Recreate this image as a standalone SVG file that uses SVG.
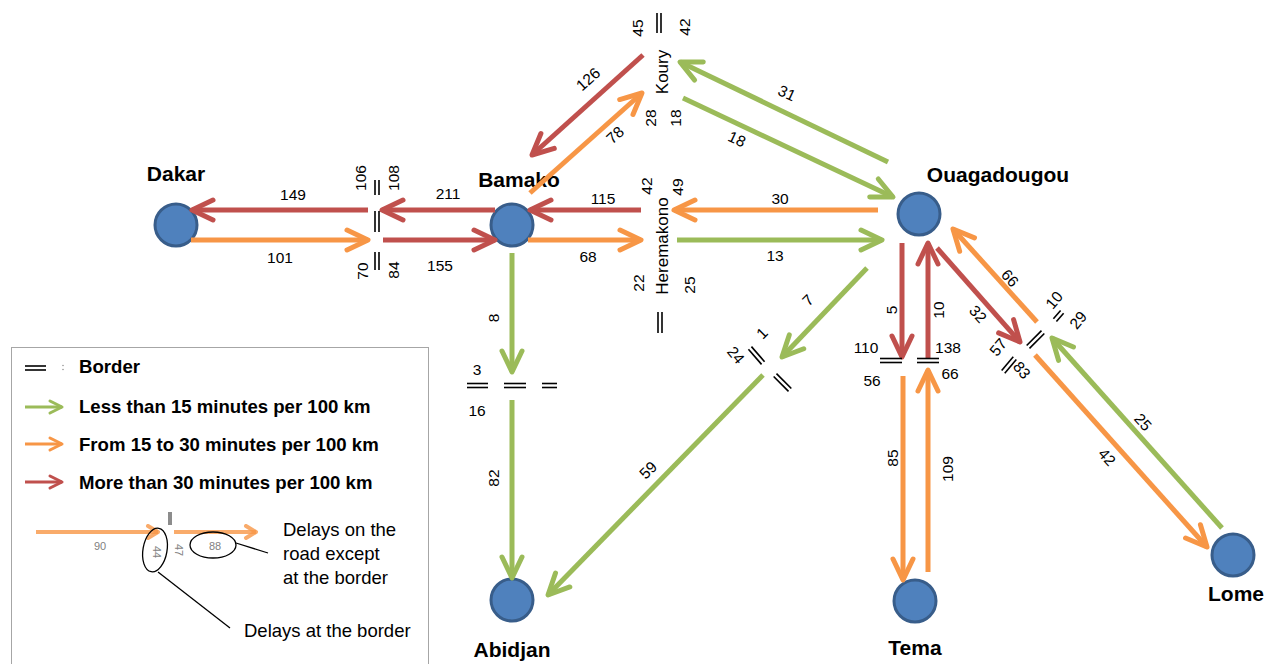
<svg xmlns="http://www.w3.org/2000/svg" width="1265" height="664" viewBox="0 0 1265 664">
<style>
.node{fill:#4f81bd;stroke:#385d8a;stroke-width:3}
.nl{font-family:"Liberation Sans",Arial,sans-serif;font-weight:bold;font-size:21px;fill:#000;text-anchor:middle}
.g{stroke:#9bbb59;stroke-width:5;fill:none}
.o{stroke:#f79646;stroke-width:5;fill:none}
.r{stroke:#c0504d;stroke-width:5;fill:none}
.g{marker-end:url(#ag)}.o{marker-end:url(#ao)}.r{marker-end:url(#ar)}
.n{font-family:"Liberation Sans",Arial,sans-serif;font-size:15.5px;fill:#000;text-anchor:middle;dominant-baseline:central}
.pl{font-family:"Liberation Sans",Arial,sans-serif;font-size:17px;fill:#000;text-anchor:middle;dominant-baseline:central}
.bd line{stroke:#000;stroke-width:1.6}
.lt{font-family:"Liberation Sans",Arial,sans-serif;font-weight:bold;font-size:18.6px;fill:#000}
.ex{font-family:"Liberation Sans",Arial,sans-serif;font-size:18.5px;fill:#000}
.sm{font-family:"Liberation Sans",Arial,sans-serif;font-size:11px;fill:#7f7f7f;text-anchor:middle;dominant-baseline:central}
</style>
<defs>
<marker id="ag" viewBox="-26 -14 30 28" refX="0" refY="0" markerWidth="30" markerHeight="28" markerUnits="userSpaceOnUse" orient="auto"><path d="M-21,-10 L0,0 L-21,10" fill="none" stroke="#9bbb59" stroke-width="5" stroke-linecap="round" stroke-linejoin="round"/></marker>
<marker id="ao" viewBox="-26 -14 30 28" refX="0" refY="0" markerWidth="30" markerHeight="28" markerUnits="userSpaceOnUse" orient="auto"><path d="M-21,-10 L0,0 L-21,10" fill="none" stroke="#f79646" stroke-width="5" stroke-linecap="round" stroke-linejoin="round"/></marker>
<marker id="ar" viewBox="-26 -14 30 28" refX="0" refY="0" markerWidth="30" markerHeight="28" markerUnits="userSpaceOnUse" orient="auto"><path d="M-21,-10 L0,0 L-21,10" fill="none" stroke="#c0504d" stroke-width="5" stroke-linecap="round" stroke-linejoin="round"/></marker>
<marker id="sg" viewBox="-16 -9 20 18" refX="0" refY="0" markerWidth="20" markerHeight="18" markerUnits="userSpaceOnUse" orient="auto"><path d="M-12,-6 L0,0 L-12,6" fill="none" stroke="#9bbb59" stroke-width="3" stroke-linecap="round" stroke-linejoin="round"/></marker>
<marker id="so" viewBox="-16 -9 20 18" refX="0" refY="0" markerWidth="20" markerHeight="18" markerUnits="userSpaceOnUse" orient="auto"><path d="M-12,-6 L0,0 L-12,6" fill="none" stroke="#f79646" stroke-width="3" stroke-linecap="round" stroke-linejoin="round"/></marker>
<marker id="sr" viewBox="-16 -9 20 18" refX="0" refY="0" markerWidth="20" markerHeight="18" markerUnits="userSpaceOnUse" orient="auto"><path d="M-12,-6 L0,0 L-12,6" fill="none" stroke="#c0504d" stroke-width="3" stroke-linecap="round" stroke-linejoin="round"/></marker>
<marker id="io" viewBox="-14 -8 18 16" refX="0" refY="0" markerWidth="18" markerHeight="16" markerUnits="userSpaceOnUse" orient="auto"><path d="M-10,-6 L0,0 L-10,6" fill="none" stroke="#f79646" stroke-width="4" stroke-opacity="0.8" stroke-linecap="round" stroke-linejoin="round"/></marker>
</defs>
<rect width="1265" height="664" fill="#fff"/>

<g id="nodes">
<g id="dakar"><circle class="node" cx="176" cy="225" r="21"/><text class="nl" x="176" y="181">Dakar</text></g>
<g id="bamako"><circle class="node" cx="512" cy="225" r="21"/><text class="nl" x="519" y="187">Bamako</text></g>
<g id="ouagadougou"><circle class="node" cx="919" cy="214" r="21"/><text class="nl" x="998" y="182">Ouagadougou</text></g>
<g id="abidjan"><circle class="node" cx="512" cy="600" r="21"/><text class="nl" x="512" y="657">Abidjan</text></g>
<g id="tema"><circle class="node" cx="915" cy="601" r="21"/><text class="nl" x="915" y="655">Tema</text></g>
<g id="lome"><circle class="node" cx="1233" cy="555" r="21"/><text class="nl" x="1236" y="601">Lome</text></g>
</g>

<g id="connectors">
<line class="r" x1="368" y1="210" x2="192" y2="210"/>
<line class="o" x1="191" y1="240" x2="368" y2="240"/>
<line class="r" x1="495" y1="210" x2="382" y2="210"/>
<line class="r" x1="383" y1="240" x2="495" y2="240"/>
<line class="r" x1="641" y1="210" x2="530" y2="210"/>
<line class="o" x1="528" y1="240" x2="641" y2="240"/>
<line class="o" x1="878" y1="210" x2="674" y2="210"/>
<line class="g" x1="677" y1="240" x2="882" y2="240"/>
<line class="r" x1="643" y1="55" x2="532" y2="155"/>
<line class="o" x1="530" y1="193" x2="642" y2="93"/>
<line class="g" x1="888" y1="162" x2="680" y2="62"/>
<line class="g" x1="683" y1="98" x2="893" y2="197"/>
<line class="g" x1="512" y1="253" x2="512" y2="372"/>
<line class="g" x1="512" y1="400" x2="512" y2="578"/>
<line class="g" x1="867" y1="268" x2="782" y2="357"/>
<line class="g" x1="763" y1="375" x2="548" y2="595"/>
<line class="r" x1="902" y1="243" x2="902" y2="357"/>
<line class="r" x1="928" y1="358" x2="928" y2="243"/>
<line class="o" x1="903" y1="376" x2="903" y2="580"/>
<line class="o" x1="928" y1="572" x2="928" y2="370"/>
<line class="r" x1="937" y1="248" x2="1020" y2="342"/>
<line class="o" x1="1037" y1="322" x2="953" y2="229"/>
<line class="o" x1="1035" y1="355" x2="1207" y2="547"/>
<line class="g" x1="1222" y1="528" x2="1052" y2="338"/>
</g>

<g id="borders" class="bd">
<line x1="375" y1="180" x2="375" y2="195"/><line x1="379" y1="180" x2="379" y2="195"/>
<line x1="375" y1="211" x2="375" y2="232"/><line x1="379" y1="211" x2="379" y2="232"/>
<line x1="375" y1="252" x2="375" y2="270"/><line x1="379" y1="252" x2="379" y2="270"/>
<line x1="657" y1="13" x2="657" y2="33"/><line x1="661" y1="13" x2="661" y2="33"/>
<line x1="658" y1="312" x2="658" y2="333"/><line x1="662" y1="312" x2="662" y2="333"/>
<line x1="467" y1="383.5" x2="488" y2="383.5"/><line x1="467" y1="387.5" x2="488" y2="387.5"/>
<line x1="504" y1="383.5" x2="526" y2="383.5"/><line x1="504" y1="387.5" x2="526" y2="387.5"/>
<line x1="542" y1="383.5" x2="557" y2="383.5"/><line x1="542" y1="387.5" x2="557" y2="387.5"/>
<line x1="880" y1="358.5" x2="902" y2="358.5"/><line x1="880" y1="362.5" x2="902" y2="362.5"/>
<line x1="917" y1="358.5" x2="939" y2="358.5"/><line x1="917" y1="362.5" x2="939" y2="362.5"/>
<g transform="translate(756.5,355.5) rotate(49)"><line x1="-10" y1="-2" x2="10" y2="-2"/><line x1="-10" y1="2" x2="10" y2="2"/></g>
<g transform="translate(782.5,382.5) rotate(45)"><line x1="-10.5" y1="-2" x2="10.5" y2="-2"/><line x1="-10.5" y1="2" x2="10.5" y2="2"/></g>
<g transform="translate(1035.5,339.5) rotate(-45)"><line x1="-10.5" y1="-2" x2="10.5" y2="-2"/><line x1="-10.5" y1="2" x2="10.5" y2="2"/></g>
<g transform="translate(1058.5,316) rotate(-49)"><line x1="-5.5" y1="-2" x2="5.5" y2="-2"/><line x1="-5.5" y1="2" x2="5.5" y2="2"/></g>
<g transform="translate(1009,365) rotate(-50)"><line x1="-9" y1="-2" x2="9" y2="-2"/><line x1="-9" y1="2" x2="9" y2="2"/></g>
</g>

<g id="labels">
<text class="n" x="293" y="194">149</text>
<text class="n" x="280" y="257">101</text>
<text class="n" x="448" y="193">211</text>
<text class="n" x="440" y="265">155</text>
<text class="n" transform="translate(360,178) rotate(-90)">106</text>
<text class="n" transform="translate(393,178) rotate(-90)">108</text>
<text class="n" transform="translate(362,271) rotate(-90)">70</text>
<text class="n" transform="translate(393,270) rotate(-90)">84</text>
<text class="n" x="603" y="198">115</text>
<text class="n" x="588" y="256">68</text>
<text class="n" x="780" y="198">30</text>
<text class="n" x="775" y="255">13</text>
<text class="n" transform="translate(646,186) rotate(-90)">42</text>
<text class="n" transform="translate(677,187) rotate(-90)">49</text>
<text class="pl" transform="translate(662,246) rotate(-90)">Heremakono</text>
<text class="n" transform="translate(638,283) rotate(-90)">22</text>
<text class="n" transform="translate(689,285) rotate(-90)">25</text>
<text class="n" transform="translate(588,79) rotate(-42)">126</text>
<text class="n" transform="translate(615,135) rotate(-42)">78</text>
<text class="n" transform="translate(637,28) rotate(-90)">45</text>
<text class="n" transform="translate(684,27) rotate(-90)">42</text>
<text class="pl" transform="translate(662,72) rotate(-90)">Koury</text>
<text class="n" transform="translate(650,118) rotate(-90)">28</text>
<text class="n" transform="translate(675,118) rotate(-90)">18</text>
<text class="n" transform="translate(787,93) rotate(25)">31</text>
<text class="n" transform="translate(737,139) rotate(25)">18</text>
<text class="n" transform="translate(493,318) rotate(-90)">8</text>
<text class="n" x="477" y="369">3</text>
<text class="n" x="477" y="410">16</text>
<text class="n" transform="translate(493,478) rotate(-90)">82</text>
<text class="n" transform="translate(808,300) rotate(-45)">7</text>
<text class="n" transform="translate(762,333) rotate(-45)">1</text>
<text class="n" transform="translate(736,355) rotate(50)">24</text>
<text class="n" transform="translate(648,470) rotate(-45)">59</text>
<text class="n" transform="translate(891,310) rotate(-90)">5</text>
<text class="n" transform="translate(938,310) rotate(-90)">10</text>
<text class="n" x="866" y="347">110</text>
<text class="n" x="948" y="347">138</text>
<text class="n" x="872" y="380">56</text>
<text class="n" x="950" y="373">66</text>
<text class="n" transform="translate(892,458) rotate(-90)">85</text>
<text class="n" transform="translate(947,469) rotate(-90)">109</text>
<text class="n" transform="translate(978,314) rotate(48)">32</text>
<text class="n" transform="translate(1010,278) rotate(48)">66</text>
<text class="n" transform="translate(1054,300) rotate(-50)">10</text>
<text class="n" transform="translate(1078,320) rotate(-50)">29</text>
<text class="n" transform="translate(998,347) rotate(-50)">57</text>
<text class="n" transform="translate(1022,370) rotate(50)">83</text>
<text class="n" transform="translate(1107,457) rotate(48)">42</text>
<text class="n" transform="translate(1143,422) rotate(48)">25</text>
</g>

<g id="legend">
<rect x="11.5" y="347.5" width="417" height="340" fill="#fff" stroke="#a6a6a6" stroke-width="1"/>
<g class="bd"><line x1="25" y1="366" x2="46" y2="366"/><line x1="25" y1="370" x2="46" y2="370"/></g>
<circle cx="63" cy="365.5" r="0.7" fill="#808080"/><circle cx="63" cy="369.5" r="0.7" fill="#808080"/>
<text class="lt" x="79" y="373">Border</text>
<line x1="25" y1="407" x2="62" y2="407" stroke="#9bbb59" stroke-width="3" marker-end="url(#sg)"/>
<text class="lt" x="79" y="413">Less than 15 minutes per 100 km</text>
<line x1="25" y1="444" x2="62" y2="444" stroke="#f79646" stroke-width="3" marker-end="url(#so)"/>
<text class="lt" x="79" y="451">From 15 to 30 minutes per 100 km</text>
<line x1="25" y1="482" x2="62" y2="482" stroke="#c0504d" stroke-width="3" marker-end="url(#sr)"/>
<text class="lt" x="79" y="489">More than 30 minutes per 100 km</text>
<line x1="36" y1="532" x2="158" y2="532" stroke="#f79646" stroke-width="4" stroke-opacity="0.8" marker-end="url(#io)"/>
<rect x="168" y="512" width="4" height="13" fill="#8c8c8c"/>
<line x1="174" y1="532" x2="256" y2="532" stroke="#f79646" stroke-width="4" stroke-opacity="0.8" marker-end="url(#io)"/>
<text class="sm" x="100" y="546">90</text>
<text class="sm" transform="translate(157,552) rotate(90)">44</text>
<text class="sm" transform="translate(179,550) rotate(90)">47</text>
<text class="sm" x="215" y="546">88</text>
<ellipse cx="155" cy="550" rx="12" ry="22" fill="none" stroke="#000" stroke-width="1.3" transform="rotate(10,155,550)"/>
<ellipse cx="213" cy="545" rx="23" ry="13" fill="none" stroke="#000" stroke-width="1.3"/>
<line x1="236" y1="543" x2="268" y2="553" stroke="#000" stroke-width="1.3"/>
<line x1="158" y1="572" x2="230" y2="628" stroke="#000" stroke-width="1.3"/>
<text class="ex" x="283" y="536">Delays on the</text>
<text class="ex" x="283" y="560">road except</text>
<text class="ex" x="283" y="584">at the border</text>
<text class="ex" x="244" y="637">Delays at the border</text>
</g>
</svg>
